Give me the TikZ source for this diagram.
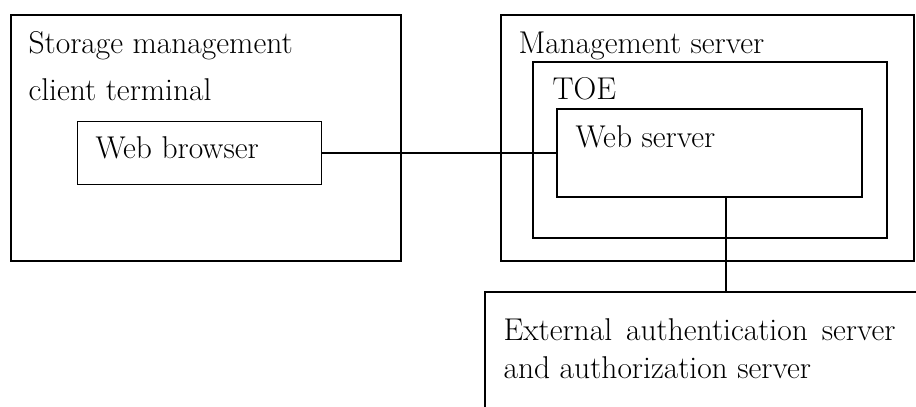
\documentclass[tikz,border=0pt]{standalone}
\usepackage{tikz}

\begin{document}
\begin{tikzpicture}[x=1pt,y=-1pt,line width=1.1pt,
  box/.style={draw,rectangle,inner sep=0pt},
  label/.style={anchor=base west,inner sep=0pt,font=\fontsize{31.5}{36}\selectfont}]
  \clip (0,0) rectangle (916,407);
  % Boxes
  \node[box,minimum width=390pt,minimum height=246pt] (client) at (206,138) {};
  \node[box,minimum width=244pt,minimum height=63pt] (browser) at (199.5,153) {};
  \node[box,minimum width=413pt,minimum height=246pt] (mgmt) at (707.5,138) {};
  \node[box,minimum width=354pt,minimum height=176pt] (toe) at (710,150) {};
  \node[box,minimum width=305pt,minimum height=88pt] (webserver) at (709.5,153) {};
  \node[box,minimum width=470pt,minimum height=140pt] (ext) at (720,362) {};
  % Texts
  \node[label] (clienta) at (28,53) {Storage management};
  \node[label] (clientb) at (28,100) {client terminal};
  \node[label] (browsert) at (95,158) {Web browser};
  \node[label] (mgmtt) at (518,53) {Management server};
  \node[label] (toet) at (552,99) {TOE};
  \node[label] (webservert) at (575,147) {Web server};
  \node[label] (exta) at (503,340) {External\hspace{14pt}authentication\hspace{14pt}server};
  \node[label] (extb) at (503,378) {and authorization server};
  % Connectors
  \draw (browser.east) -- (webserver.west);
  \draw ([xshift=16.5pt]webserver.south) -- ([xshift=16.5pt]webserver.south |- ext.north);
\end{tikzpicture}
\end{document}
